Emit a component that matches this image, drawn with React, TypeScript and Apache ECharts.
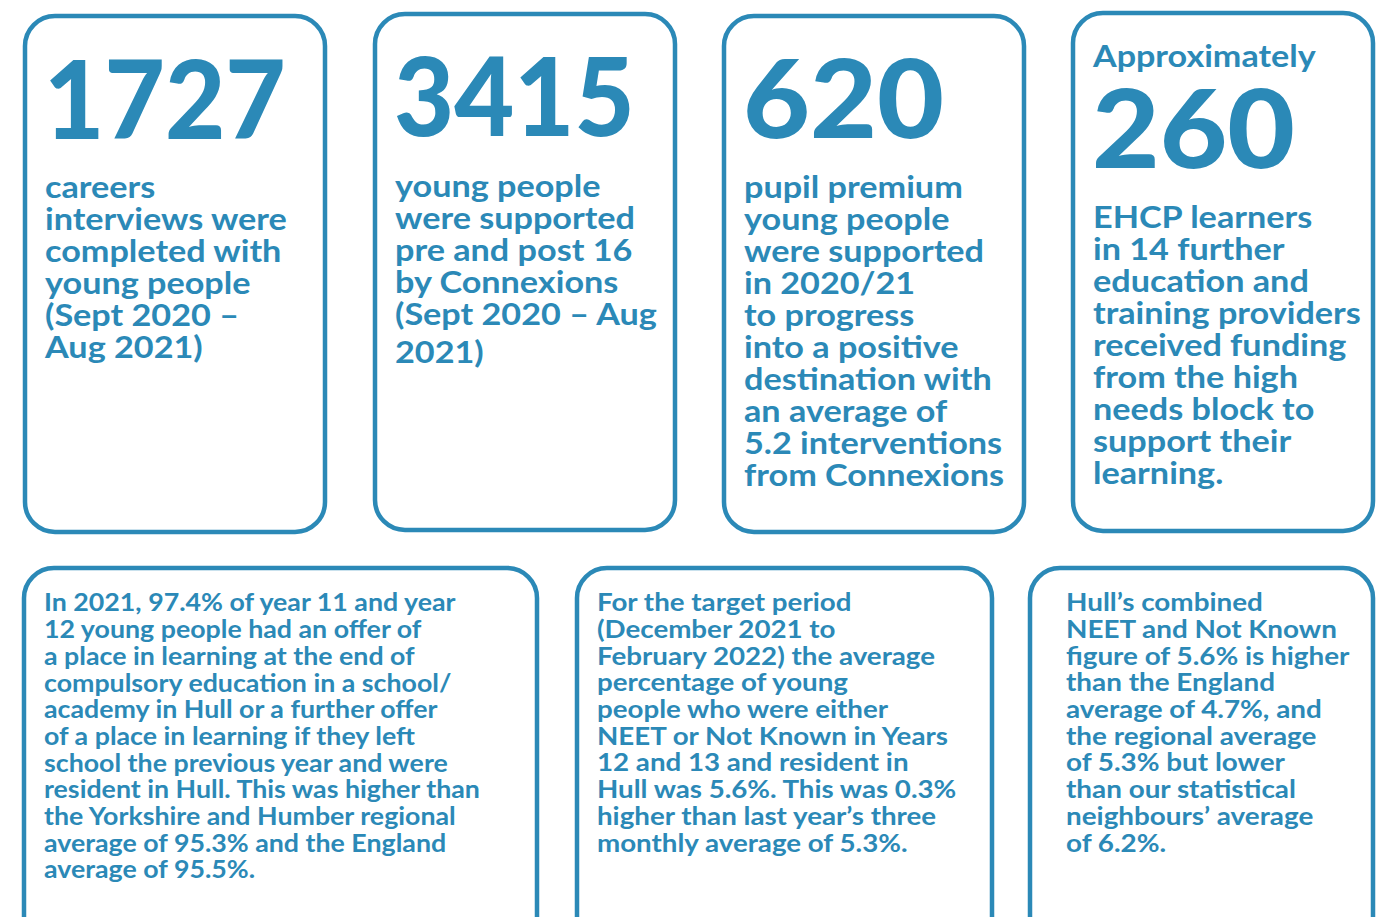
import React, { useEffect, useRef } from "react";
import * as echarts from "echarts";

const BLUE = "#2b89b7";
const FONT = "Lato, 'Open Sans', sans-serif";

const bigNumbers = ["1727", "3415", "620", "260"];
const topPrefix = ["", "", "", "Approximately"];
const topLines: string[][] = [
  ["careers", "interviews were", "completed with", "young people", "(Sept 2020 –", "Aug 2021)"],
  ["young people", "were supported", "pre and post 16", "by Connexions", "(Sept 2020 – Aug"],
  ["pupil premium", "young people", "were supported", "in 2020/21", "to progress", "into a positive", "destination with", "an average of", "5.2 interventions", "from Connexions"],
  ["EHCP learners", "in 14 further", "education and", "training providers", "received funding", "from the high", "needs block to", "support their", "learning."],
];
const topTail = ["", "2021)", "", ""];
const bottomLines: string[][] = [
  [
    "In 2021, 97.4% of year 11 and year",
    "12 young people had an offer of",
    "a place in learning at the end of",
    "compulsory education in a school/",
    "academy in Hull or a further offer",
    "of a place in learning if they left",
    "school the previous year and were",
    "resident in Hull. This was higher than",
    "the Yorkshire and Humber regional",
    "average of 95.3% and the England",
    "average of 95.5%.",
  ],
  [
    "For the target period",
    "(December 2021 to",
    "February 2022) the average",
    "percentage of young",
    "people who were either",
    "NEET or Not Known in Years",
    "12 and 13 and resident in",
    "Hull was 5.6%. This was 0.3%",
    "higher than last year’s three",
    "monthly average of 5.3%.",
  ],
  [
    "Hull’s combined",
    "NEET and Not Known",
    "figure of 5.6% is higher",
    "than the England",
    "average of 4.7%, and",
    "the regional average",
    "of 5.3% but lower",
    "than our statistical",
    "neighbours’ average",
    "of 6.2%.",
  ],
];

const topBoxes = [
  { x: 25, y: 16, w: 300, h: 516 },
  { x: 375, y: 14, w: 300, h: 516 },
  { x: 724, y: 16, w: 300, h: 516 },
  { x: 1073, y: 13, w: 300, h: 518 },
];
const bottomBoxes = [
  { x: 24, y: 568, w: 513, h: 400 },
  { x: 577, y: 568, w: 415, h: 400 },
  { x: 1030, y: 568, w: 343, h: 400 },
];
const topText = [
  { x: 45, num: 97, numScale: 0.965, body: 186, tail: 0 },
  { x: 395, num: 95, numScale: 0.96, body: 185, tail: 351 },
  { x: 744, num: 96, numScale: 1.07, body: 186, tail: 0 },
  { x: 1093, num: 126, numScale: 1.08, body: 216, tail: 0, pre: 55 },
];
const TOP_LH = 32;
const TOP_SCALE = 1.14;
const bottomText = [
  { x: 44, y: 602, scale: 1.115 },
  { x: 597, y: 602, scale: 1.155 },
  { x: 1066, y: 602, scale: 1.16 },
];
const BOT_LH = 26.7;

export default function App() {
  const ref = useRef<HTMLDivElement>(null);
  useEffect(() => {
    document.body.style.margin = "0";
    const chart = echarts.init(ref.current!, null, { renderer: "svg" });
    const elements: any[] = [];
    [...topBoxes, ...bottomBoxes].forEach((b) => {
      elements.push({
        type: "rect",
        shape: { x: b.x, y: b.y, width: b.w, height: b.h, r: 30 },
        style: { fill: "#fff", stroke: BLUE, lineWidth: 4.5 },
      });
    });
    topText.forEach((t, i) => {
      if (topPrefix[i]) {
        elements.push({
          type: "text",
          x: t.x,
          y: t.pre,
          scaleX: 1.1,
          style: { text: topPrefix[i], fill: BLUE, font: `bold 31px ${FONT}`, verticalAlign: "middle", lineHeight: 30 },
        });
      }
      elements.push({
        type: "text",
        x: t.x - 1,
        y: t.num,
        scaleX: t.numScale,
        style: { text: bigNumbers[i], fill: BLUE, font: `900 108px ${FONT}`, verticalAlign: "middle", lineHeight: 80 },
      });
      elements.push({
        type: "text",
        x: t.x,
        y: t.body - TOP_LH / 2,
        scaleX: TOP_SCALE,
        style: {
          text: topLines[i].join("\n"),
          fill: BLUE,
          font: `bold 30px ${FONT}`,
          verticalAlign: "top",
          lineHeight: TOP_LH,
        },
      });
      if (topTail[i]) {
        elements.push({
          type: "text",
          x: t.x,
          y: t.tail,
          scaleX: TOP_SCALE,
          style: { text: topTail[i], fill: BLUE, font: `bold 30px ${FONT}`, verticalAlign: "middle", lineHeight: 30 },
        });
      }
    });
    bottomText.forEach((t, i) => {
      elements.push({
        type: "text",
        x: t.x,
        y: t.y - BOT_LH / 2,
        scaleX: t.scale,
        style: {
          text: bottomLines[i].join("\n"),
          fill: BLUE,
          font: `bold 24px ${FONT}`,
          verticalAlign: "top",
          lineHeight: BOT_LH,
        },
      });
    });
    chart.setOption({ animation: false, graphic: { elements } });
    return () => chart.dispose();
  }, []);
  return <div ref={ref} style={{ width: 1376, height: 917, background: "#fff" }} />;
}
